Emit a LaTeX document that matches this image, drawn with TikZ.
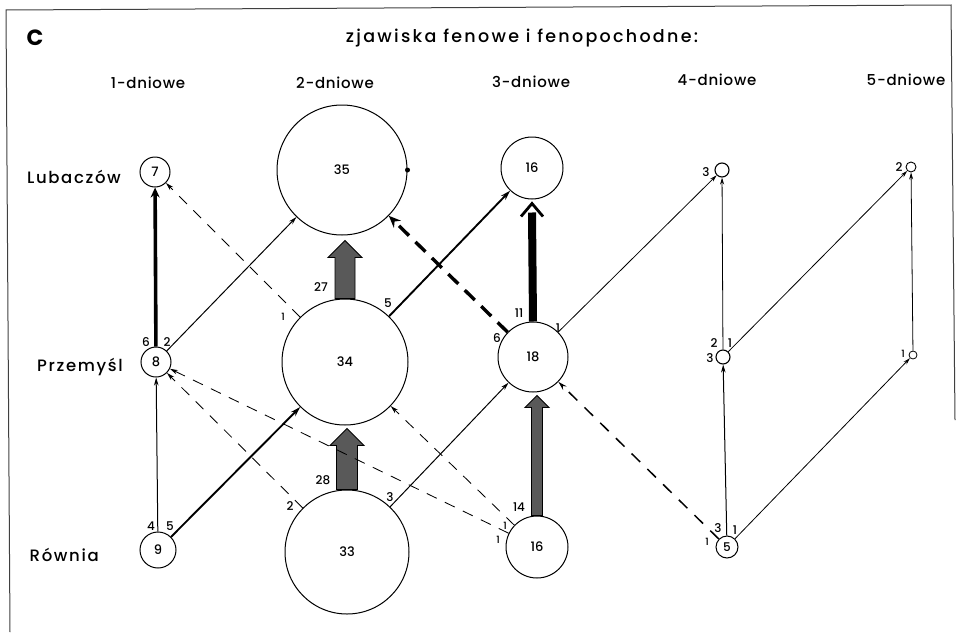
\documentclass[tikz,border=0pt]{standalone}
\usepackage{fontspec}
\setmainfont{Poppins}[UprightFont=* Medium, BoldFont=* Bold]
\usetikzlibrary{arrows.meta,calc}
\newcommand{\myblockarrow}[6]{%
  \filldraw[block] let \p1=(#1), \p2=(#2) in
  (\x1-#3,\y1) -- (\x1-#3,\y2-#6-#5) -- (\x1-#4,\y2-#6-#5) -- (\x1,\y2-#6)
  -- (\x1+#4,\y2-#6-#5) -- (\x1+#3,\y2-#6-#5) -- (\x1+#3,\y1) -- cycle;}
\begin{document}
\begin{tikzpicture}[x=1pt,y=-1pt,
  circ/.style={draw, circle, line width=1pt, inner sep=0pt, font=\fontsize{13}{13}\selectfont},
  hd/.style={font=\fontsize{15}{15}\selectfont\addfontfeature{LetterSpace=5}, inner sep=0pt},
  ttl/.style={font=\fontsize{17.5}{17.5}\selectfont\addfontfeature{LetterSpace=13}, inner sep=0pt},
  rowlab/.style={font=\fontsize{16.5}{16.5}\selectfont\addfontfeature{LetterSpace=10}, inner sep=0pt},
  lab/.style={font=\fontsize{12}{12}\selectfont, inner sep=0pt},
  slab/.style={font=\fontsize{10}{10}\selectfont, inner sep=0pt},
  thinarr/.style={line width=1pt, -{Stealth[length=8pt,width=4.5pt]}},
  hairarr/.style={line width=0.8pt, -{Stealth[length=7pt,width=4pt]}},
  midarr/.style={line width=1.9pt, -{Stealth[length=10pt,width=6pt]}},
  boldarr/.style={line width=3.6pt, -{Stealth[length=10pt,width=9pt]}},
  dsh/.style={line width=0.85pt, dash pattern=on 11pt off 9pt, -{Stealth[length=8pt,width=4.5pt]}},
  dshmid/.style={line width=1.5pt, dash pattern=on 12pt off 10pt, -{Stealth[length=9pt,width=5pt]}},
  dshbold/.style={line width=3.4pt, dash pattern=on 14pt off 9pt, -{Stealth[length=12pt,width=10pt]}},
  block/.style={draw=black, line width=0.9pt, fill=black!65, line join=miter},
  frame/.style={line width=1pt, black!75},
]
\useasboundingbox (0,0) rectangle (956,632);
% frame
\draw[frame] (10,632) -- (6,10) -- (951,5) -- (955,420);

% titles
\node[font=\fontsize{22}{22}\bfseries\selectfont, inner sep=0pt] (tC) at (35,38) {C};
\node[ttl] (title) at (522,38) {zjawiska fenowe i fenopochodne:};
\node[hd] (h1) at (148,83) {1-dniowe};
\node[hd] (h2) at (335,83) {2-dniowe};
\node[hd] (h3) at (531,82) {3-dniowe};
\node[hd] (h4) at (717,80) {4-dniowe};
\node[hd] (h5) at (906,80) {5-dniowe};
\node[rowlab, anchor=east] (rL) at (121,177) {Lubaczów};
\node[rowlab, anchor=east] (rP) at (123,367) {Przemyśl};
\node[rowlab, anchor=east] (rR) at (99,555) {Równia};

% circles
\node[circ, minimum size=30pt] (c7) at (155,172) {7};
\node[circ, minimum size=30pt] (c8) at (156,362) {8};
\node[circ, minimum size=36pt] (c9) at (158,550) {9};
\node[circ, minimum size=130pt] (c35) at (342,170) {35};
\node[circ, minimum size=126pt] (c34) at (345,362) {34};
\node[circ, minimum size=124pt] (c33) at (347,552) {33};
\node[circ, minimum size=62pt] (c16t) at (532,168) {16};
\node[circ, minimum size=70pt] (c18) at (533,357) {18};
\node[circ, minimum size=62pt] (c16b) at (537,547) {16};
\node[circ, minimum size=14pt, line width=1.1pt] (c4t) at (722,170) {};
\node[circ, minimum size=14pt, line width=1.1pt] (c4m) at (723,357) {};
\node[circ, minimum size=22pt, font=\fontsize{12}{12}\selectfont] (c4b) at (727,547) {5};
\node[circ, minimum size=10pt, line width=0.9pt] (c5t) at (911,167) {};
\node[circ, minimum size=8pt, line width=0.8pt] (c5m) at (913,355) {};
\fill (c35.0) circle (2.5);

% block arrows
\myblockarrow{c34.north}{c35.south}{10pt}{17pt}{17pt}{5pt}
\myblockarrow{c33.north}{c34.south}{10.5pt}{17pt}{17pt}{3pt}
\myblockarrow{c16b.north}{c18.south}{5.5pt}{12pt}{12pt}{3pt}

% thick black arrow 18 -> 16
\draw[line width=8pt] (c18.north) -- ($(c16t.south)+(0,13)$);
\draw[line width=2.8pt, line join=miter] ($(c16t.south)+(-11,17)$) -- ($(c16t.south)+(0,4)$) -- ($(c16t.south)+(11,17)$);

% solid arrows
\draw[boldarr] (c8) -- (c7);
\draw[thinarr] (c9) -- (c8);
\draw[thinarr] (c8) -- (c35);
\draw[midarr] (c9) -- (c34);
\draw[midarr] (c34) -- (c16t);
\draw[thinarr] (c33) -- (c18);
\draw[hairarr] (c18) -- (c4t);
\draw[hairarr] (c4m) -- (c4t);
\draw[hairarr] (c4m) -- (c5t);
\draw[hairarr] (c5m) -- (c5t);
\draw[thinarr] (c4b) -- (c4m);
\draw[hairarr] (c4b) -- (c5m);

% dashed arrows
\draw[dsh] (c34) -- (c7);
\draw[dsh] (c33) -- (c8);
\draw[dsh] (c16b) -- (c8);
\draw[dsh] (c16b) -- (c34);
\draw[dshmid] (c4b) -- (c18);
\draw[dshbold] (c18) -- (c35);

% edge labels
\node[lab] (l6a) at (146,342) {6};
\node[lab] (l2a) at (167,342) {2};
\node[lab] (l4a) at (151,526) {4};
\node[lab] (l5a) at (170,526) {5};
\node[lab] (l27) at (321,287) {27};
\node[slab] (l1b) at (283,317) {1};
\node[lab] (l5b) at (388,303) {5};
\node[lab] (l28) at (323,480) {28};
\node[lab] (l2b) at (290,506) {2};
\node[lab] (l3b) at (390,497) {3};
\node[lab] (l11) at (519,313) {11};
\node[lab] (l1c) at (558,328) {1};
\node[lab] (l6c) at (497,338) {6};
\node[lab] (l14) at (519,507) {14};
\node[slab] (l1d) at (505,526) {1};
\node[slab] (l1e) at (498,540) {1};
\node[lab] (l3t) at (706,172) {3};
\node[lab] (l2m) at (714,343) {2};
\node[lab] (l1m) at (730,343) {1};
\node[lab] (l3m) at (710,358) {3};
\node[lab] (l3n) at (718,528) {3};
\node[lab] (l1n) at (735,530) {1};
\node[slab] (l1o) at (707,542) {1};
\node[lab] (l2t5) at (899,167) {2};
\node[slab] (l1m5) at (903,354) {1};
\end{tikzpicture}
\end{document}
